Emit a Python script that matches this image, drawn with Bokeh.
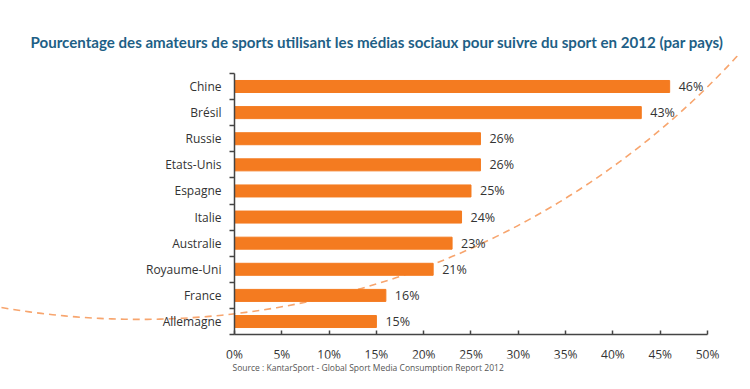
from bokeh.plotting import figure
from bokeh.models import (Range1d, LinearAxis, FixedTicker, Title, PrintfTickFormatter,
                          ColumnDataSource, LabelSet)
from bokeh.core.properties import value
from bokeh.embed import file_html
from bokeh.resources import INLINE

# ---- data ----
countries = ["Allemagne", "France", "Royaume-Uni", "Australie", "Italie",
             "Espagne", "Etats-Unis", "Russie", "Brésil", "Chine"]
values = [15, 16, 21, 23, 24, 25, 26, 26, 43, 46]
value_labels = [f"{v}%" for v in values]
x_ticks = [0, 5, 10, 15, 20, 25, 30, 35, 40, 45, 50]
title_text = "Pourcentage des amateurs de sports utilisant les médias sociaux pour suivre du sport en 2012 (par pays)"
source_text = "Source : KantarSport - Global Sport Media Consumption Report 2012"

# decorative dashed circle (centre in data units, radius in screen px)
deco_cx, deco_cy, deco_r = -10.04, 31.6, 810

BAR = "#f47b20"
TXT = "#333333"

ypos = [i + 0.5 for i in range(len(countries))]
src = ColumnDataSource(dict(y=ypos, v=values, lab=value_labels))

p = figure(width=742, height=373, output_backend="svg", toolbar_location=None,
           x_range=Range1d(-24.736, 53.70), y_range=Range1d(-0.916, 10.687),
           x_axis_type=None, y_axis_type=None,
           min_border_left=0, min_border_right=0, min_border_top=55, min_border_bottom=14)
p.outline_line_color = None
p.xgrid.visible = False
p.ygrid.visible = False
p.background_fill_color = "white"
p.border_fill_color = "white"

# title
t = Title(text=title_text, align="left", offset=30, standoff=10,
          text_font="Lato", text_font_style="bold", text_font_size="15.1px",
          text_color="#1e5f86")
p.add_layout(t, "above")
s = Title(text=source_text, align="left", offset=232, standoff=2,
          text_font="Open Sans", text_font_style="normal", text_font_size="8.5px",
          text_color="#555555")
p.add_layout(s, "below")

# decorative curve
p.ellipse(x=[deco_cx], y=[deco_cy], width=[2 * deco_r], height=[2 * deco_r],
          width_units="screen", height_units="screen",
          fill_color=None, line_color="#f7a56e", line_width=1.6, line_dash="7 5")

# bars
p.hbar(y="y", right="v", left=0, height=0.46, source=src, color=BAR)

labels = LabelSet(x="v", y="y", text="lab", source=src, x_offset=9,
                  text_baseline="middle", text_font=value("Open Sans"),
                  text_font_size=value("12.5px"), text_color=TXT)
p.add_layout(labels)

# y axis (category labels at centres, minor ticks at boundaries)
yax = LinearAxis(fixed_location=0, bounds=(0, 10),
                 ticker=FixedTicker(ticks=ypos, minor_ticks=list(range(0, 11))),
                 major_label_overrides={y: c for y, c in zip(ypos, countries)},
                 major_tick_out=0, major_tick_in=0, minor_tick_out=5, minor_tick_in=0,
                 minor_tick_line_color="#444444", minor_tick_line_width=1.5,
                 axis_line_color="#444444", axis_line_width=1.5,
                 major_label_standoff=8,
                 major_label_text_font="Open Sans", major_label_text_font_size="12px",
                 major_label_text_color=TXT)
p.add_layout(yax, "left")

# x axis
xax = LinearAxis(fixed_location=0, bounds=(0, 50),
                 ticker=FixedTicker(ticks=x_ticks),
                 formatter=PrintfTickFormatter(format="%d%%"),
                 major_tick_in=4, major_tick_out=0,
                 major_tick_line_color="#444444", major_tick_line_width=1.5,
                 axis_line_color="#444444", axis_line_width=1.5,
                 major_label_standoff=11,
                 major_label_text_font="Open Sans", major_label_text_font_size="12px",
                 major_label_text_color=TXT)
p.add_layout(xax, "below")

open("out.html", "w").write(file_html(p, INLINE))
